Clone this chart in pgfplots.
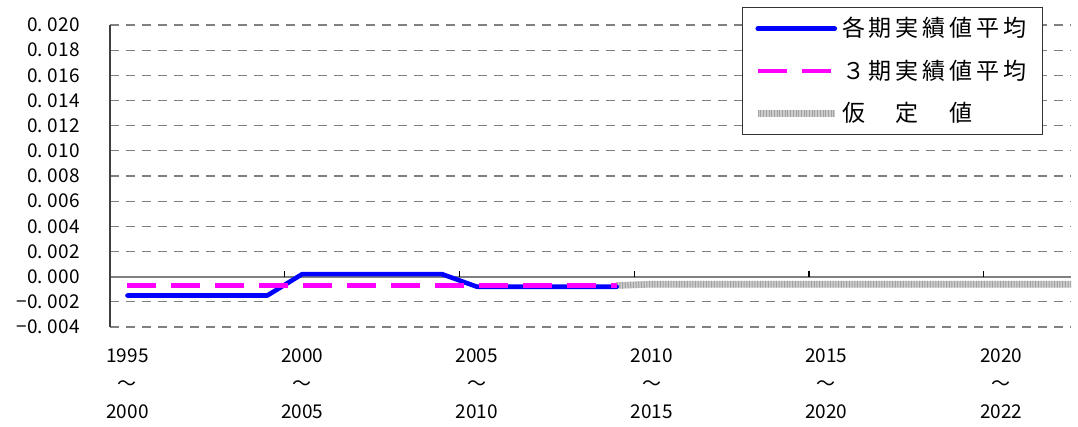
\documentclass[border=0pt]{standalone}
\usepackage{fontspec}
\setmainfont{Noto Sans CJK JP}
\newfontfamily\legfont[LetterSpace=17]{Noto Sans CJK JP}
\usepackage{pgfplots}
\pgfplotsset{compat=1.18}
\definecolor{gridgray}{RGB}{128,128,128}
\definecolor{hatchlight}{RGB}{205,205,205}
\definecolor{hatchdark}{RGB}{160,160,160}
\definecolor{myblue}{RGB}{0,0,255}
\definecolor{mymag}{RGB}{255,0,255}
\begin{document}
\begin{tikzpicture}
\useasboundingbox (-55pt,-50pt) rectangle (484pt,163.5pt);
\begin{axis}[
  at={(0pt,0pt)}, anchor=south west,
  scale only axis, width=480.5pt, height=151pt,
  xmin=1994.5, xmax=2022, ymin=-0.004, ymax=0.020,
  clip=false,
  scaled y ticks=false, scaled x ticks=false,
  axis line style={draw=none},
  tick style={draw=none},
  major tick length=0pt,
  ytick={-0.004,-0.002,0,0.002,0.004,0.006,0.008,0.010,0.012,0.014,0.016,0.018,0.020},
  yticklabels={−0.\hspace{2.5pt}004,−0.\hspace{2.5pt}002,0.\hspace{2.5pt}000,0.\hspace{2.5pt}002,0.\hspace{2.5pt}004,0.\hspace{2.5pt}006,0.\hspace{2.5pt}008,0.\hspace{2.5pt}010,0.\hspace{2.5pt}012,0.\hspace{2.5pt}014,0.\hspace{2.5pt}016,0.\hspace{2.5pt}018,0.\hspace{2.5pt}020},
  yticklabel style={font=\fontsize{9.5}{11}\selectfont, inner sep=0pt, anchor=east, xshift=-15pt},
  xtick={1995,2000,2005,2010,2015,2020},
  xticklabels={1995\\～\\2000,2000\\～\\2005,2005\\～\\2010,2010\\～\\2015,2015\\～\\2020,2020\\～\\2022},
  xticklabel style={font=\fontsize{9.5}{14.2}\selectfont, align=center, inner sep=0pt, anchor=north, yshift=-10.5pt},
  ymajorgrids,
  grid style={gridgray, line width=0.6pt, dash pattern=on 4.5pt off 3.5pt},
  legend image code/.code={\draw[#1] (0pt,0pt) -- (38.5pt,0pt);},
  legend cell align=left,
  legend style={at={(0.971,1.06)}, anchor=north east, draw=black!80, line width=0.6pt,
    font=\legfont\fontsize{11.5}{13}\selectfont, inner xsep=6pt, inner ysep=3pt, row sep=6pt,
    fill=white},
]
\draw[gridgray, line width=1pt] (axis cs:1994.5,0) -- (axis cs:2022,0);
\draw[black!75, line width=0.75pt] (rel axis cs:0,0) -- (rel axis cs:0,1);
\draw[black, line width=0.6pt] (axis cs:1999.5,0) -- ++(0pt,3pt);
\draw[black, line width=0.6pt] (axis cs:2004.5,0) -- ++(0pt,3pt);
\draw[black, line width=0.6pt] (axis cs:2009.5,0) -- ++(0pt,3pt);
\draw[black, line width=0.6pt] (axis cs:2014.5,0) -- ++(0pt,3pt);
\draw[black, line width=0.6pt] (axis cs:2019.5,0) -- ++(0pt,3pt);
% gray assumed values
\addplot[forget plot, hatchlight, line width=3.3pt] coordinates {
(2009,-0.0007)(2010,-0.0006)(2011,-0.0006)(2012,-0.0006)(2013,-0.0006)(2014,-0.0006)(2015,-0.0006)(2016,-0.0006)(2017,-0.0006)(2018,-0.0006)(2019,-0.0006)(2020,-0.0006)(2021,-0.0006)(2022,-0.0006)};
\addplot[forget plot, hatchdark, line width=3.3pt, dash pattern=on 0.5pt off 0.85pt] coordinates {
(2009,-0.0007)(2010,-0.0006)(2011,-0.0006)(2012,-0.0006)(2013,-0.0006)(2014,-0.0006)(2015,-0.0006)(2016,-0.0006)(2017,-0.0006)(2018,-0.0006)(2019,-0.0006)(2020,-0.0006)(2021,-0.0006)(2022,-0.0006)};
% blue
\addplot[myblue, line width=2.3pt, line cap=round, line join=round] coordinates {
(1995,-0.0015)(1996,-0.0015)(1997,-0.0015)(1998,-0.0015)(1999,-0.0015)(2000,0.0002)(2001,0.0002)(2002,0.0002)(2003,0.0002)(2004,0.0002)(2005,-0.0008)(2006,-0.0008)(2007,-0.0008)(2008,-0.0008)(2009,-0.0008)};
\addlegendentry{各期実績値平均}
% magenta
\addplot[mymag, line width=2.2pt, dash pattern=on 14.5pt off 7.5pt] coordinates {
(1995,-0.0007)(1996,-0.0007)(1997,-0.0007)(1998,-0.0007)(1999,-0.0007)(2000,-0.0007)(2001,-0.0007)(2002,-0.0007)(2003,-0.0007)(2004,-0.0007)(2005,-0.0007)(2006,-0.0007)(2007,-0.0007)(2008,-0.0007)(2009,-0.0007)};
\addlegendentry{３期実績値平均}
\addlegendimage{legend image code/.code={
  \draw[hatchlight, line width=3.3pt] (0pt,0pt) -- (38.5pt,0pt);
  \draw[hatchdark, line width=3.3pt, dash pattern=on 0.5pt off 0.85pt] (0pt,0pt) -- (38.5pt,0pt);}}
\addlegendentry{仮　定　値}
\end{axis}
\end{tikzpicture}
\end{document}
